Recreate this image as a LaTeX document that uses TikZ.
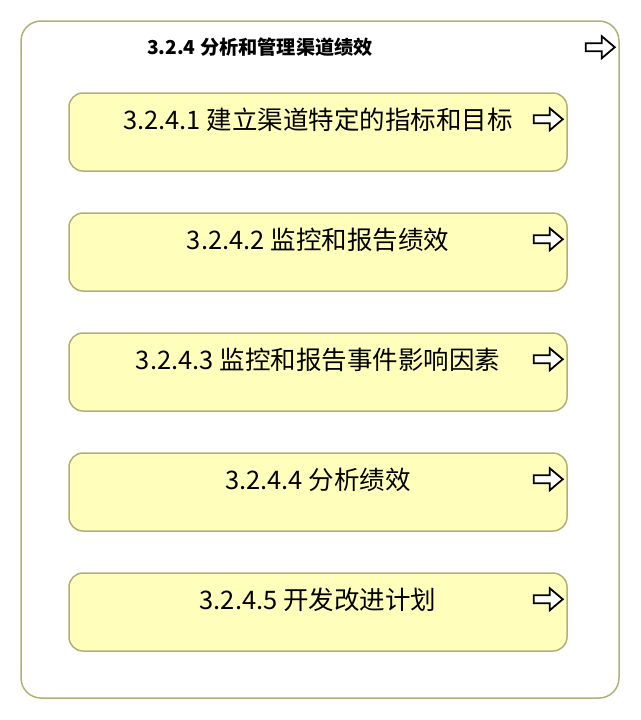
\documentclass[tikz,border=0pt]{standalone}
\usepackage{fontspec}
\setmainfont{Noto Sans CJK SC}
\usetikzlibrary{positioning}

\definecolor{boxline}{RGB}{178,176,120}
\definecolor{boxfill}{RGB}{255,255,187}

\newcommand{\boxw}{498}
\newcommand{\boxh}{78}
\newcommand{\pb}{\node[procbox]}
\newcommand{\pt}{\node[proctext]}

\tikzset{
    outerbox/.style={draw=boxline, line width=1.5pt, fill=white, rounded corners=20pt,
        minimum width=598pt, minimum height=677pt},
    procbox/.style={draw=boxline, line width=1.5pt, fill=boxfill, rounded corners=14pt,
        minimum width=\boxw pt, minimum height=\boxh pt},
    proctext/.style={font=\fontsize{25.5}{28}\selectfont, inner sep=0pt},
    titletext/.style={font=\bfseries\fontsize{19.2}{22}\selectfont, inner sep=0pt},
    fwdicon/.pic={
        \draw[line width=1.8pt, line join=miter, fill=white]
            (0,-4) -- (16,-4) -- (16,-11) -- (29,0) -- (16,11) -- (16,4) -- (0,4) -- cycle;
    }
}

\begin{document}
\begin{tikzpicture}[x=1pt, y=-1pt]
    \useasboundingbox (0,0) rectangle (640,720);

    \node[outerbox] (fn) at (320,359.5) {};
    \node[titletext] (fntitle) at (260,47) {3.2.4 分析和管理渠道绩效};
    \pic at ([xshift=-34pt, yshift=-27pt]fn.north east) {fwdicon};

    \pb (p1) at (318,132) {};
    \pb (p2) at (318,252) {};
    \pb (p3) at (318,372) {};
    \pb (p4) at (318,492) {};
    \pb (p5) at (318,612) {};

    \pt (t1) at ([yshift=-28pt]p1.north) {3.2.4.1 建立渠道特定的指标和目标};
    \pt (t2) at ([yshift=-28pt]p2.north) {3.2.4.2 监控和报告绩效};
    \pt (t3) at ([yshift=-28pt]p3.north) {3.2.4.3 监控和报告事件影响因素};
    \pt (t4) at ([yshift=-28pt]p4.north) {3.2.4.4 分析绩效};
    \pt (t5) at ([yshift=-28pt]p5.north) {3.2.4.5 开发改进计划};

    \foreach \i in {1,...,5}
        \pic at ([xshift=-34pt, yshift=-27pt]p\i.north east) {fwdicon};

\end{tikzpicture}
\end{document}
